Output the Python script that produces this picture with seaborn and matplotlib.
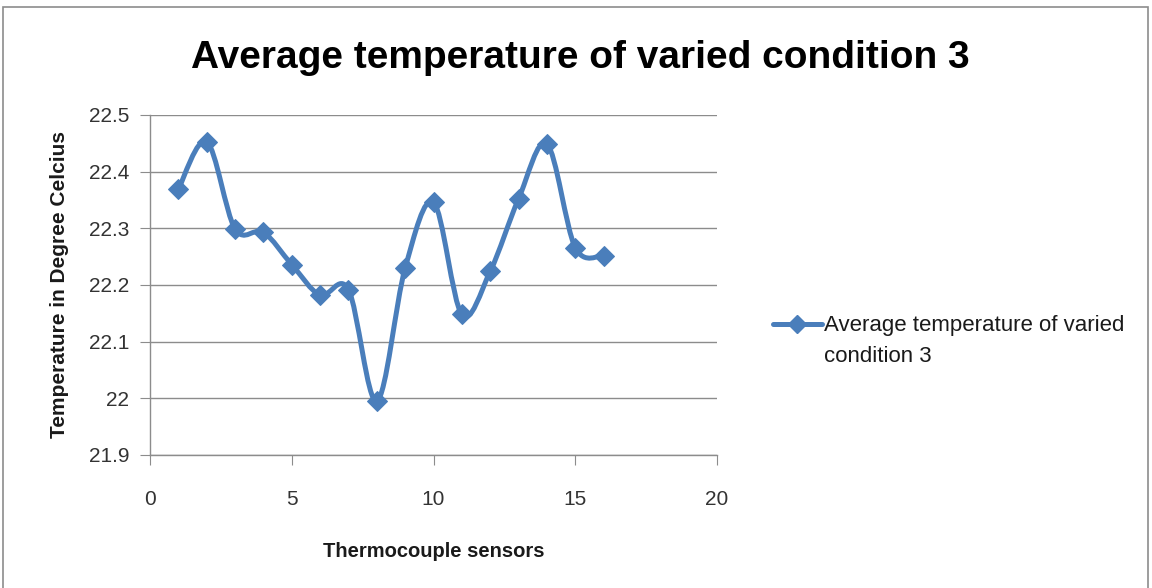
import numpy as np
import pandas as pd
import matplotlib
matplotlib.use("Agg")
import matplotlib.pyplot as plt
from matplotlib.path import Path
from matplotlib.patches import PathPatch, Rectangle
from matplotlib.lines import Line2D
from matplotlib.ticker import FormatStrFormatter
import seaborn as sns

sns.set_style("white")
plt.rcParams['font.family'] = ['Liberation Sans', 'DejaVu Sans']

# data
sensors = [1, 2, 3, 4, 5, 6, 7, 8, 9, 10, 11, 12, 13, 14, 15, 16]
temps = [22.369, 22.453, 22.299, 22.293, 22.236, 22.182, 22.192, 21.995,
         22.230, 22.346, 22.148, 22.224, 22.352, 22.449, 22.266, 22.252]
series_name = "Average temperature of varied condition 3"
xticks = [0, 5, 10, 15, 20]
yticks = [21.9, 22.0, 22.1, 22.2, 22.3, 22.4, 22.5]

df = pd.DataFrame({"sensor": sensors, "temp": temps})
blue = "#4A7EBB"
txt = "#1a1a1a"

fig = plt.figure(figsize=(11.52, 5.88), dpi=100)
ax = fig.add_axes([150/1152, 1-455/588, (717-150)/1152, (455-115)/588])

# smoothed line like Excel (cardinal bezier through the points)
P = df[["sensor", "temp"]].to_numpy(dtype=float)
verts = [P[0]]
codes = [Path.MOVETO]
n = len(P)
for i in range(n - 1):
    p0 = P[max(i - 1, 0)]
    p1 = P[i]
    p2 = P[i + 1]
    p3 = P[min(i + 2, n - 1)]
    verts += [p1 + (p2 - p0) / 6, p2 - (p3 - p1) / 6, p2]
    codes += [Path.CURVE4] * 3
ax.add_patch(PathPatch(Path(verts, codes), facecolor="none", edgecolor=blue,
                       lw=3.6, capstyle="round", joinstyle="round", zorder=3))

sns.lineplot(data=df, x="sensor", y="temp", ax=ax, marker="D", markersize=10,
             color=blue, linewidth=0, markeredgecolor=blue, zorder=4, legend=False)

ax.set_xlim(0, 20)
ax.set_ylim(21.9, 22.5)
ax.set_xticks(xticks)
ax.set_yticks(yticks)
ax.yaxis.set_major_formatter(FormatStrFormatter('%g'))
ax.grid(axis="y", color="#8c8c8c", lw=1)
ax.grid(axis="x", visible=False)
for s in ["top", "right"]:
    ax.spines[s].set_visible(False)
for s in ["left", "bottom"]:
    ax.spines[s].set_color("#8c8c8c")
    ax.spines[s].set_linewidth(1)
ax.tick_params(axis="both", which="major", length=7, color="#8c8c8c",
               labelsize=15, direction="out", left=True, bottom=True,
               colors="#8c8c8c", labelcolor="#333333")
ax.tick_params(axis="x", pad=18)
ax.tick_params(axis="y", pad=8)

ax.set_xlabel("Thermocouple sensors", fontsize=14.5, fontweight="bold",
              labelpad=24, color=txt)
ax.set_ylabel("Temperature in Degree Celcius", fontsize=15, fontweight="bold",
              labelpad=14, color=txt)

fig.text(580/1152, 1-58/588, series_name,
         ha="center", va="center", fontsize=28, fontweight="bold", color="black",
         family=['Liberation Sans Narrow', 'Liberation Sans', 'DejaVu Sans'])

# legend: first line beside the handle, wrapped rest underneath (Excel style)
first, rest = series_name.rsplit(" ", 2)[0], " ".join(series_name.rsplit(" ", 2)[1:])
handle = Line2D([], [], color=blue, lw=3.6, marker="D", markersize=9)
leg = fig.legend([handle], [first],
                 loc="center left", bbox_to_anchor=(764/1152, 1-326/588),
                 frameon=False, fontsize=16, handlelength=2.2, handletextpad=0.1,
                 borderaxespad=0, labelcolor=txt)
fig.canvas.draw()
bb = leg.get_texts()[0].get_window_extent().transformed(fig.transFigure.inverted())
fig.text(bb.x0, bb.y0 - 30/588, rest, ha="left", va="bottom",
         fontsize=16, color=txt)

fig.add_artist(Rectangle((3/1152, -0.02), 1145/1152, 1-7/588 + 0.02,
                         transform=fig.transFigure, fill=False,
                         edgecolor="#8c8c8c", lw=1.2))

fig.savefig("out.png", dpi=100)
